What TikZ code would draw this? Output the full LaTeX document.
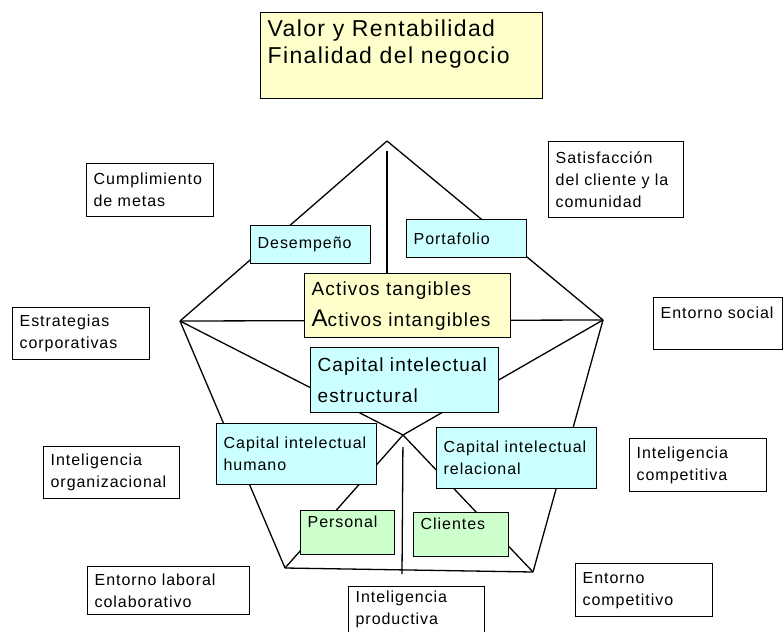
\documentclass[tikz,border=0pt]{standalone}
\usepackage{tikz}
\usepackage{fontspec}
\setmainfont{Liberation Sans}[LetterSpace=6]
\definecolor{paleyellow}{HTML}{FFFFCC}
\definecolor{palecyan}{HTML}{CCFFFF}
\definecolor{palegreen}{HTML}{CCFFCC}
\tikzset{
  lbl/.style={draw, line width=1.3pt, anchor=north west, align=left,
    inner xsep=7pt, inner ysep=0pt, fill=white,
    font=\fontsize{16}{22}\selectfont},
  big/.style={font=\fontsize{19}{31}\selectfont},
  link/.style={line width=1.3pt},
}
\begin{document}
\begin{tikzpicture}[x=1pt,y=-1pt]
  \useasboundingbox (0,0) rectangle (783,631);
  \clip (0,0) rectangle (783,631);

  % corners of the pentagon
  \coordinate (apex) at (387,141);
  \coordinate (lv) at (180,321);
  \coordinate (rv) at (603,320);
  \coordinate (bl) at (285,568);
  \coordinate (br) at (533,572);
  \coordinate (ctr) at (403,435);
  \coordinate (bc) at (402,574);
  \coordinate (actmid) at (387,300);

  \draw[link] (apex) -- (lv);
  \draw[link] (apex) -- (rv);
  \draw[link, shorten <=10pt] (apex) -- (actmid);
  \draw[link] (lv) -- (rv);
  \draw[link] (lv) -- (ctr);
  \draw[link] (rv) -- (ctr);
  \draw[link] (lv) -- (bl);
  \draw[link] (rv) -- (br);
  \draw[link] (ctr) -- (bl);
  \draw[link] (ctr) -- (br);
  \draw[link, shorten <=12pt] (ctr) -- (bc);
  \draw[link] (bl) -- (br);

  % title
  \node[lbl, fill=paleyellow, font=\fontsize{23}{27}\selectfont,
    text width=268pt, minimum height=86pt] (fin) at (260,12)
    {Valor y Rentabilidad\\Finalidad del negocio\\~};

  % outer labels
  \node[lbl, text width=113pt, minimum height=53pt] (metas) at (86,163)
    {Cumplimiento\\de metas};
  \node[lbl, text width=121pt, minimum height=76pt] (satis) at (548,141)
    {Satisfacción\\del cliente y la\\comunidad};
  \node[lbl, text width=123pt, minimum height=52pt] (estrat) at (12,307)
    {Estrategias\\corporativas};
  \node[lbl, text width=115pt, minimum height=52pt] (social) at (653,297)
    {Entorno social\\~};
  \node[lbl, text width=122pt, minimum height=52pt] (iorg) at (43,446)
    {Inteligencia\\organizacional};
  \node[lbl, text width=123pt, minimum height=53pt] (icomp) at (629,438)
    {Inteligencia\\competitiva};
  \node[lbl, text width=148pt, minimum height=48pt] (laboral) at (87,566)
    {Entorno laboral\\colaborativo};
  \node[lbl, text width=123pt, minimum height=53pt] (ecomp) at (575,563)
    {Entorno\\competitivo};
  \node[lbl, text width=122pt, minimum height=46pt] (iprod) at (348,586)
    {Inteligencia\\productiva};

  % inner boxes
  \node[lbl, fill=palecyan, text width=106pt, minimum height=38pt] (desem) at (250,225)
    {Desempeño};
  \node[lbl, fill=palecyan, text width=106pt, minimum height=38pt] (porta) at (406,219)
    {Portafolio};
  \node[lbl, big, fill=paleyellow, text width=192pt, minimum height=64pt] (act) at (304,273)
    {Activos tangibles\\{\fontsize{24}{31}\selectfont A}ctivos intangibles};
  \node[lbl, big, fill=palecyan, text width=174pt, minimum height=65pt] (estr) at (310,347)
    {Capital intelectual\\estructural};
  \node[lbl, fill=palecyan, text width=146pt, minimum height=61pt] (human) at (216,423)
    {Capital intelectual\\humano};
  \node[lbl, fill=palecyan, text width=146pt, minimum height=61pt] (relac) at (436,427)
    {Capital intelectual\\relacional};
  \node[lbl, fill=palegreen, text width=80pt, minimum height=44pt] (pers) at (300,510)
    {Personal\\~};
  \node[lbl, fill=palegreen, text width=81pt, minimum height=44pt] (clien) at (413,512)
    {Clientes\\~};
\end{tikzpicture}
\end{document}
